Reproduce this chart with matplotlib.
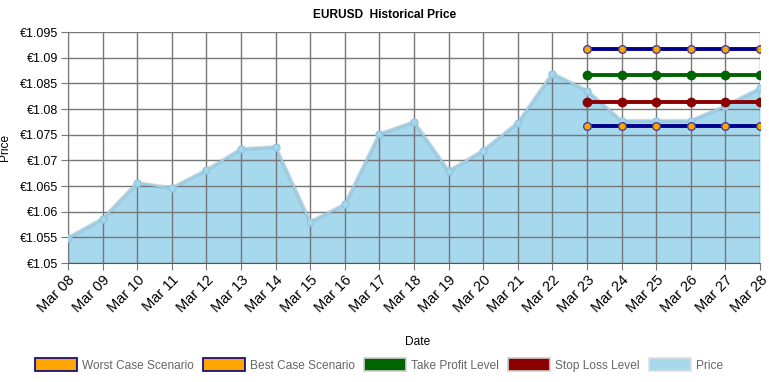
import matplotlib
matplotlib.use("Agg")
import matplotlib.pyplot as plt
from matplotlib.patches import Patch

plt.rcParams['font.family'] = ['Liberation Sans', 'DejaVu Sans']

dates = ["Mar 08", "Mar 09", "Mar 10", "Mar 11", "Mar 12", "Mar 13", "Mar 14",
         "Mar 15", "Mar 16", "Mar 17", "Mar 18", "Mar 19", "Mar 20", "Mar 21",
         "Mar 22", "Mar 23", "Mar 24", "Mar 25", "Mar 26", "Mar 27", "Mar 28"]
price = [1.0549, 1.0586, 1.0656, 1.0646, 1.0681, 1.0722, 1.0726, 1.0580, 1.0614,
         1.0751, 1.0775, 1.0679, 1.0719, 1.0773, 1.0869, 1.0836, 1.0777, 1.0777,
         1.0777, 1.0806, 1.0840]
level_dates = dates[15:]
worst_case = [1.0766] * 6
best_case = [1.0916] * 6
take_profit = [1.0867] * 6
stop_loss = [1.0814] * 6
yticks = [1.05, 1.055, 1.06, 1.065, 1.07, 1.075, 1.08, 1.085, 1.09, 1.095]
ytick_labels = ["€1.05", "€1.055", "€1.06", "€1.065", "€1.07", "€1.075",
                "€1.08", "€1.085", "€1.09", "€1.095"]

fig = plt.figure(figsize=(7.69, 3.82), dpi=100)
ax = fig.add_axes([68 / 769, 119 / 382, 692 / 769, 231 / 382])

x = list(range(len(dates)))
lx = x[15:]

ax.fill_between(x, 1.05, price, color="#a6d8ee", zorder=1, linewidth=0)
ax.plot(x, price, color="#999999", lw=3, alpha=0.3, zorder=2)
ax.plot(x, price, color="#9ccfe8", lw=1.5, marker="o", ms=5,
        mfc="#a3d5ec", mec="#93c8e2", zorder=3)

ax.plot(lx, best_case, color="#00008b", lw=2.8, marker="o", ms=5.5,
        mfc="#ffa500", mec="#4b3f9a", mew=1, zorder=5)
ax.plot(lx, take_profit, color="#006400", lw=2.8, marker="o", ms=6,
        mfc="#006400", mec="#006400", zorder=5)
ax.plot(lx, stop_loss, color="#8b0000", lw=2.8, marker="o", ms=6,
        mfc="#8b0000", mec="#8b0000", zorder=5)
ax.plot(lx, worst_case, color="#00008b", lw=2.8, marker="o", ms=5.5,
        mfc="#ffa500", mec="#4b3f9a", mew=1, zorder=5)

ax.set_xlim(0, len(dates) - 1)
ax.set_ylim(1.05, 1.095)
ax.set_xticks(x)
ax.set_xticklabels(dates, rotation=45, ha="right", rotation_mode="anchor",
                   fontsize=10.5)
ax.set_yticks(yticks)
ax.set_yticklabels(ytick_labels, fontsize=9)
ax.grid(True, color="#777777", lw=1, zorder=0)
ax.set_axisbelow(False)
for s in ["top", "right"]:
    ax.spines[s].set_visible(False)
for s in ["left", "bottom"]:
    ax.spines[s].set_color("#555555")
ax.tick_params(axis="both", color="#777777", length=5, pad=2)
ax.set_facecolor("white")

fig.text(0.5, 1 - 15 / 382, "EURUSD  Historical Price", ha="center",
         va="center", fontsize=8.6, fontweight="bold")
fig.text(5 / 769, 1 - 147 / 382, "Price", rotation=90, ha="center",
         va="center", fontsize=8.6)
fig.text(418 / 769, 1 - 342 / 382, "Date", ha="center", va="center", fontsize=8.6)

handles = [
    Patch(facecolor="#ffa500", edgecolor="#00008b", lw=1.2, label="Worst Case Scenario"),
    Patch(facecolor="#ffa500", edgecolor="#00008b", lw=1.2, label="Best Case Scenario"),
    Patch(facecolor="#006400", edgecolor="#d0d0d0", lw=1.2, label="Take Profit Level"),
    Patch(facecolor="#8b0000", edgecolor="#d0d0d0", lw=1.2, label="Stop Loss Level"),
    Patch(facecolor="#a6d8ee", edgecolor="#e0e0e0", lw=1.2, label="Price"),
]
leg = fig.legend(handles=handles, loc="center", ncol=5, frameon=False,
                 bbox_to_anchor=(379 / 769, 1 - 365 / 382), fontsize=8.6,
                 handlelength=3.5, handleheight=1.2, handletextpad=0.4,
                 columnspacing=0.8)
for t in leg.get_texts():
    t.set_color("#666666")

fig.savefig("out.png", dpi=100)
